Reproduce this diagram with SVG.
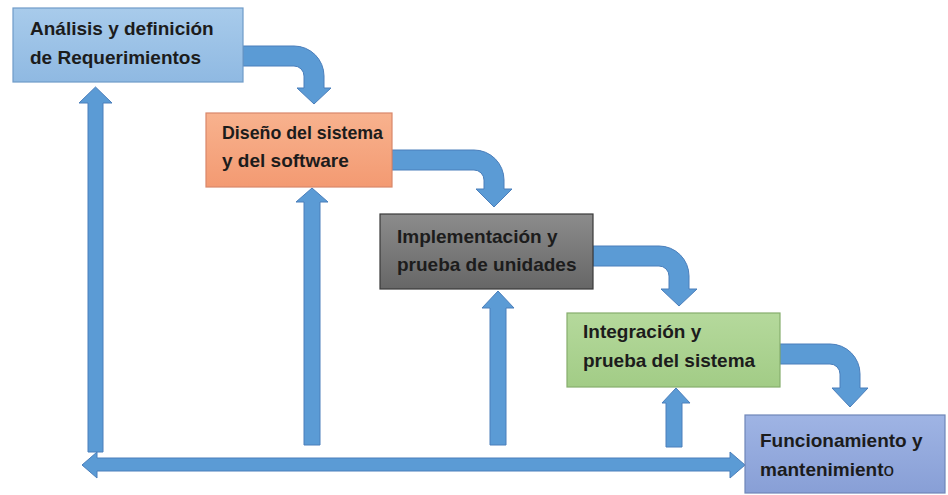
<svg xmlns="http://www.w3.org/2000/svg" width="948" height="495" viewBox="0 0 948 495">
<style>
.lbl{font-family:"Liberation Sans",Arial,sans-serif;font-weight:bold;font-size:19px;fill:#1c1c1c}
.arr{fill:#5b9bd5;stroke:#4a7ebb;stroke-width:1}
.box{stroke-width:1.2}
</style>
<defs>
<linearGradient id="gBlue" x1="0" y1="0" x2="0" y2="1"><stop offset="0" stop-color="#a8cbeb"/><stop offset="1" stop-color="#8fb9e2"/></linearGradient>
<linearGradient id="gOrange" x1="0" y1="0" x2="0" y2="1"><stop offset="0" stop-color="#f8b28e"/><stop offset="1" stop-color="#f39a72"/></linearGradient>
<linearGradient id="gGray" x1="0" y1="0" x2="0" y2="1"><stop offset="0" stop-color="#8c8c8c"/><stop offset="1" stop-color="#666666"/></linearGradient>
<linearGradient id="gGreen" x1="0" y1="0" x2="0" y2="1"><stop offset="0" stop-color="#b5d99c"/><stop offset="1" stop-color="#a2cc86"/></linearGradient>
<linearGradient id="gViolet" x1="0" y1="0" x2="0" y2="1"><stop offset="0" stop-color="#9fb4e4"/><stop offset="1" stop-color="#889fd6"/></linearGradient>
</defs>
<rect width="948" height="495" fill="#ffffff"/>
<g id="connectors">
<path class="arr" d="M243,46 H294 A30,30 0 0 1 324,76 V88 H331 L314,104 L297,88 H304 V76 A10,10 0 0 0 294,66 H243 Z"/>
<path class="arr" d="M392,150 H474 A30,30 0 0 1 504,180 V189 H512 L494,207 L476,189 H484 V180 A10,10 0 0 0 474,170 H392 Z"/>
<path class="arr" d="M593,246 H659 A30,30 0 0 1 689,276 V289 H697 L679,306 L661,289 H669 V276 A10,10 0 0 0 659,266 H593 Z"/>
<path class="arr" d="M780,344 H830 A30,30 0 0 1 860,374 V388 H868 L850,407 L832,388 H840 V374 A10,10 0 0 0 830,364 H780 Z"/>
<path class="arr" d="M88,452 V103 H79 L95.5,87 L112,103 H103 V452 Z"/>
<path class="arr" d="M304,445 V202 H296 L312,188 L328,202 H320 V445 Z"/>
<path class="arr" d="M490,445 V308 H482 L498,291 L514,308 H506 V445 Z"/>
<path class="arr" d="M666,447 V403 H662 L676,388 L690,403 H682 V447 Z"/>
<path class="arr" d="M82,465 L97,452 V458 H730 V452 L745,465 L730,478 V471 H97 V478 Z"/>
</g>
<g id="n1">
<rect class="box" x="13" y="8" width="230" height="74" fill="url(#gBlue)" stroke="#6f9bc8"/>
<text class="lbl" x="30" y="35">Análisis y definición</text>
<text class="lbl" x="30" y="64">de Requerimientos</text>
</g>
<g id="n2">
<rect class="box" x="206" y="113" width="186" height="74" fill="url(#gOrange)" stroke="#d9876a"/>
<text class="lbl" x="222" y="139" textLength="161" lengthAdjust="spacingAndGlyphs">Diseño del sistema</text>
<text class="lbl" x="222" y="167">y del software</text>
</g>
<g id="n3">
<rect class="box" x="380" y="214" width="213" height="75" fill="url(#gGray)" stroke="#3a3a3a"/>
<text class="lbl" x="397" y="243">Implementación y</text>
<text class="lbl" x="397" y="271">prueba de unidades</text>
</g>
<g id="n4">
<rect class="box" x="567" y="313" width="213" height="74" fill="url(#gGreen)" stroke="#86ad6d"/>
<text class="lbl" x="583" y="338">Integración y</text>
<text class="lbl" x="583" y="367">prueba del sistema</text>
</g>
<g id="n5">
<rect class="box" x="745" y="415" width="200" height="78" fill="url(#gViolet)" stroke="#6f86b8"/>
<text class="lbl" x="760" y="447">Funcionamiento y</text>
<text class="lbl" x="760" y="476">mantenimient<tspan font-weight="normal">o</tspan></text>
</g>
</svg>
